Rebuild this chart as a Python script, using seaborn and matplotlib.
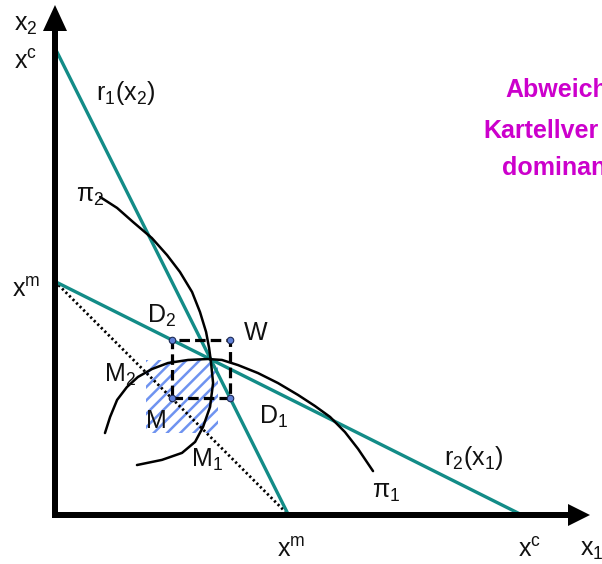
import seaborn as sns
import matplotlib.pyplot as plt
from matplotlib.patches import Rectangle

# Mengeneinheiten: Monopolmenge x^m = 1, Konkurrenzmenge x^c = 2
x_m = 1.0
x_c = 2.0

# Reaktionsfunktionen und Kartell-Linie (Achsenabschnitte)
r1_x1 = [0.0, x_m]
r1_x2 = [x_c, 0.0]
r2_x1 = [0.0, x_c]
r2_x2 = [x_m, 0.0]
kartell_x1 = [0.0, x_m]
kartell_x2 = [x_m, 0.0]

# Isogewinnlinien
pi1_x1 = [0.214, 0.236, 0.266, 0.308, 0.355, 0.415, 0.484, 0.570, 0.655, 0.715, 0.784,
          0.869, 0.955, 1.041, 1.113, 1.178, 1.242, 1.298, 1.362]
pi1_x2 = [0.351, 0.420, 0.493, 0.548, 0.591, 0.625, 0.651, 0.664, 0.668, 0.664, 0.642,
          0.608, 0.565, 0.514, 0.467, 0.420, 0.355, 0.283, 0.188]
pi2_x1 = [0.193, 0.266, 0.334, 0.415, 0.480, 0.535, 0.587, 0.621, 0.647, 0.660, 0.668,
          0.677, 0.664, 0.634, 0.600, 0.544, 0.458, 0.351]
pi2_x2 = [1.362, 1.315, 1.255, 1.186, 1.113, 1.041, 0.955, 0.869, 0.784, 0.715, 0.655,
          0.565, 0.463, 0.377, 0.313, 0.266, 0.236, 0.214]

# Punkte M, D1, W, D2 (gestricheltes Quadrat)
pkt_namen = ['M', 'D1', 'W', 'D2', 'M']
pkt_x1 = [0.5, 0.75, 0.75, 0.5, 0.5]
pkt_x2 = [0.5, 0.5, 0.75, 0.75, 0.5]

# schraffierte Flaeche
schraff_x1 = [0.39, 0.70]
schraff_x2 = [0.35, 0.665]

TEAL = '#138c87'
DPI = 120
S = 100 / DPI
PX = 233.5          # Pixel je Mengeneinheit
OX, OY = 55, 515    # Ursprung in Pixeln


def at(px, py):
    return (px - OX) / PX, (OY - py) / PX


sns.set_theme(style='white')
plt.rcParams['font.family'] = ['Liberation Sans', 'DejaVu Sans']
plt.rcParams['mathtext.default'] = 'regular'
plt.rcParams['hatch.linewidth'] = 1.5

fig = plt.figure(figsize=(602 / DPI, 564 / DPI), dpi=DPI)
ax = fig.add_axes([0, 0, 1, 1])
ax.set_xlim(-OX / PX, (602 - OX) / PX)
ax.set_ylim((OY - 564) / PX, OY / PX)
ax.axis('off')

# schraffierte Flaeche
ax.add_patch(Rectangle((schraff_x1[0], schraff_x2[0]),
                       schraff_x1[1] - schraff_x1[0], schraff_x2[1] - schraff_x2[0],
                       facecolor='white', edgecolor='#6f93f0', hatch='///', lw=0, zorder=1))

# Linien
sns.lineplot(x=kartell_x1, y=kartell_x2, ax=ax, color='black', lw=2 * S,
             linestyle=(0, (0.8, 1.0)), sort=False, estimator=None, zorder=2)
sns.lineplot(x=r1_x1, y=r1_x2, ax=ax, color=TEAL, lw=2.4 * S, sort=False, estimator=None, zorder=3)
sns.lineplot(x=r2_x1, y=r2_x2, ax=ax, color=TEAL, lw=2.4 * S, sort=False, estimator=None, zorder=3)
sns.lineplot(x=pi1_x1, y=pi1_x2, ax=ax, color='black', lw=1.8 * S, sort=False, estimator=None, zorder=4)
sns.lineplot(x=pi2_x1, y=pi2_x2, ax=ax, color='black', lw=1.8 * S, sort=False, estimator=None, zorder=4)

# gestricheltes Quadrat mit Eckpunkten
ax.plot(pkt_x1, pkt_x2, color='black', lw=2.3 * S, linestyle=(0, (3.3, 1.6)), zorder=5)
ax.scatter(pkt_x1[:4], pkt_x2[:4], s=22 * S * S, color='#5f80d8', edgecolor='#1d2a55',
           lw=0.8 * S, zorder=6)

# Achsen mit Pfeilen
w = 6 / PX
ax.arrow(-w / 2, 0, (590 - OX) / PX + w / 2, 0, width=w, head_width=22 / PX, head_length=22 / PX,
         length_includes_head=True, color='black', lw=0, zorder=7)
ax.arrow(0, -w / 2, 0, (OY - 5) / PX + w / 2, width=w, head_width=24 / PX, head_length=26 / PX,
         length_includes_head=True, color='black', lw=0, zorder=7)

# Beschriftungen
fs = 18 * S
labels = [
    ('x$_2$', 14, 25), ('x$^c$', 14, 62), ('x$^m$', 12, 290),
    ('r$_1$(x$_2$)', 96, 93), ('π$_2$', 76, 196), ('D$_2$', 147, 316),
    ('W', 244, 333), ('M$_2$', 104, 375), ('M', 146, 421), ('D$_1$', 259, 417),
    ('M$_1$', 191, 460), ('π$_1$', 372, 492), ('r$_2$(x$_1$)', 444, 458),
    ('x$^m$', 277, 550), ('x$^c$', 518, 550), ('x$_1$', 580, 550),
]
for txt, px, py in labels:
    ax.text(*at(px, py), txt, fontsize=fs, ha='left', va='center', color='#111111', zorder=8)

magenta = '#cc00cc'
for txt, px, py in [('Abweich', 505, 90), ('Kartellver', 483, 131), ('dominan', 502, 168)]:
    ax.text(*at(px, py), txt, fontsize=fs, ha='left', va='center', color=magenta,
            fontweight='bold', zorder=8)

fig.savefig('out.png', dpi=DPI)
